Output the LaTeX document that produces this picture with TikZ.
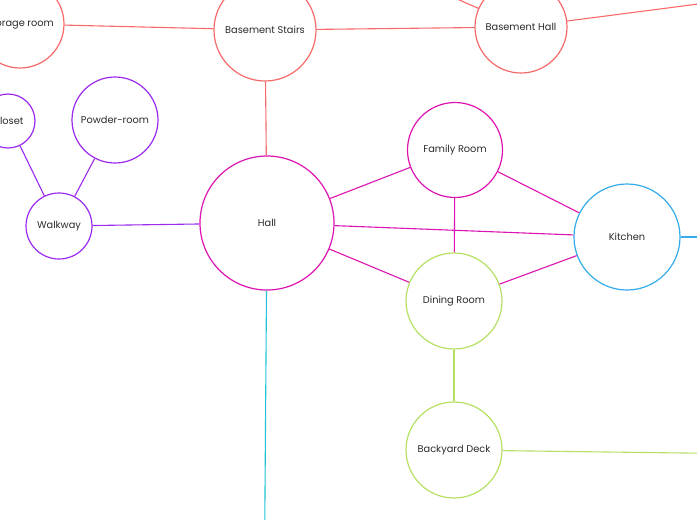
\documentclass[tikz,border=0pt]{standalone}
\usepackage{fontspec}
\setmainfont{Poppins}
\usepackage{tikz}
\usetikzlibrary{arrows.meta, positioning}

\definecolor{basered}{HTML}{F86A6A}
\definecolor{walkpurple}{HTML}{9A2BEF}
\definecolor{hallmagenta}{HTML}{DD14B2}
\definecolor{kitchenblue}{HTML}{34ACEC}
\definecolor{deckgreen}{HTML}{B6E064}
\definecolor{halltea}{HTML}{20C4D4}
\definecolor{inktext}{HTML}{2B2B2B}

\begin{document}
\begin{tikzpicture}[
  x=1pt, y=-1pt,
  font=\fontsize{9.8}{11}\selectfont, text=inktext,
  room/.style={circle, draw, line width=1.2pt, fill=white, inner sep=0pt, align=center},
  link/.style={line width=1.1pt}
]
\useasboundingbox (0,0) rectangle (697,520);
\clip (0,0) rectangle (697,520);
\fill[white] (0,0) rectangle (697,520);

\coordinate (offup)    at (400,-26);
\coordinate (offright) at (760,-4);
\coordinate (offkit)   at (760,237);
\coordinate (offdeck)  at (760,454);
\coordinate (offdown)  at (264.5,560);

\node[room, draw=basered, minimum size=88pt]  (sto) at (20,24)   {Storage room};
\node[room, draw=basered, minimum size=102pt] (bst) at (265,30)  {Basement Stairs};
\node[room, draw=basered, minimum size=92pt]  (bha) at (521,27)  {Basement Hall};

\node[room, draw=walkpurple, minimum size=54pt] (clo) at (8,121)   {Closet};
\node[room, draw=walkpurple, minimum size=86pt] (pow) at (115,120) {Powder-room};
\node[room, draw=walkpurple, minimum size=66pt] (wal) at (59,226)  {Walkway};

\node[room, draw=hallmagenta, minimum size=134pt] (hal) at (267,223) {Hall};
\node[room, draw=hallmagenta, minimum size=95pt]  (fam) at (455,150) {Family Room};
\node[room, draw=kitchenblue, minimum size=106pt] (kit) at (627,237) {Kitchen};
\node[room, draw=deckgreen, minimum size=96pt]    (din) at (454,301) {Dining Room};
\node[room, draw=deckgreen, minimum size=96pt]    (dec) at (454,450) {Backyard Deck};

\draw[link, basered] (sto) -- (bst);
\draw[link, basered] (bst) -- (bha);
\draw[link, basered] (bst) -- (hal);
\draw[link, basered] (bha) -- (offup);
\draw[link, basered] (bha) -- (offright);

\draw[link, walkpurple] (wal) -- (clo);
\draw[link, walkpurple] (wal) -- (pow);
\draw[link, walkpurple] (wal) -- (hal);

\draw[link, hallmagenta] (hal) -- (fam);
\draw[link, hallmagenta] (hal) -- (kit);
\draw[link, hallmagenta] (hal) -- (din);
\draw[link, hallmagenta] (fam) -- (din);
\draw[link, hallmagenta] (fam) -- (kit);
\draw[link, hallmagenta] (din) -- (kit);

\draw[link, kitchenblue] (kit) -- (offkit);
\draw[link, deckgreen] (din) -- (dec);
\draw[link, deckgreen] (dec) -- (offdeck);
\draw[link, halltea] (hal) -- (offdown);
\end{tikzpicture}
\end{document}
